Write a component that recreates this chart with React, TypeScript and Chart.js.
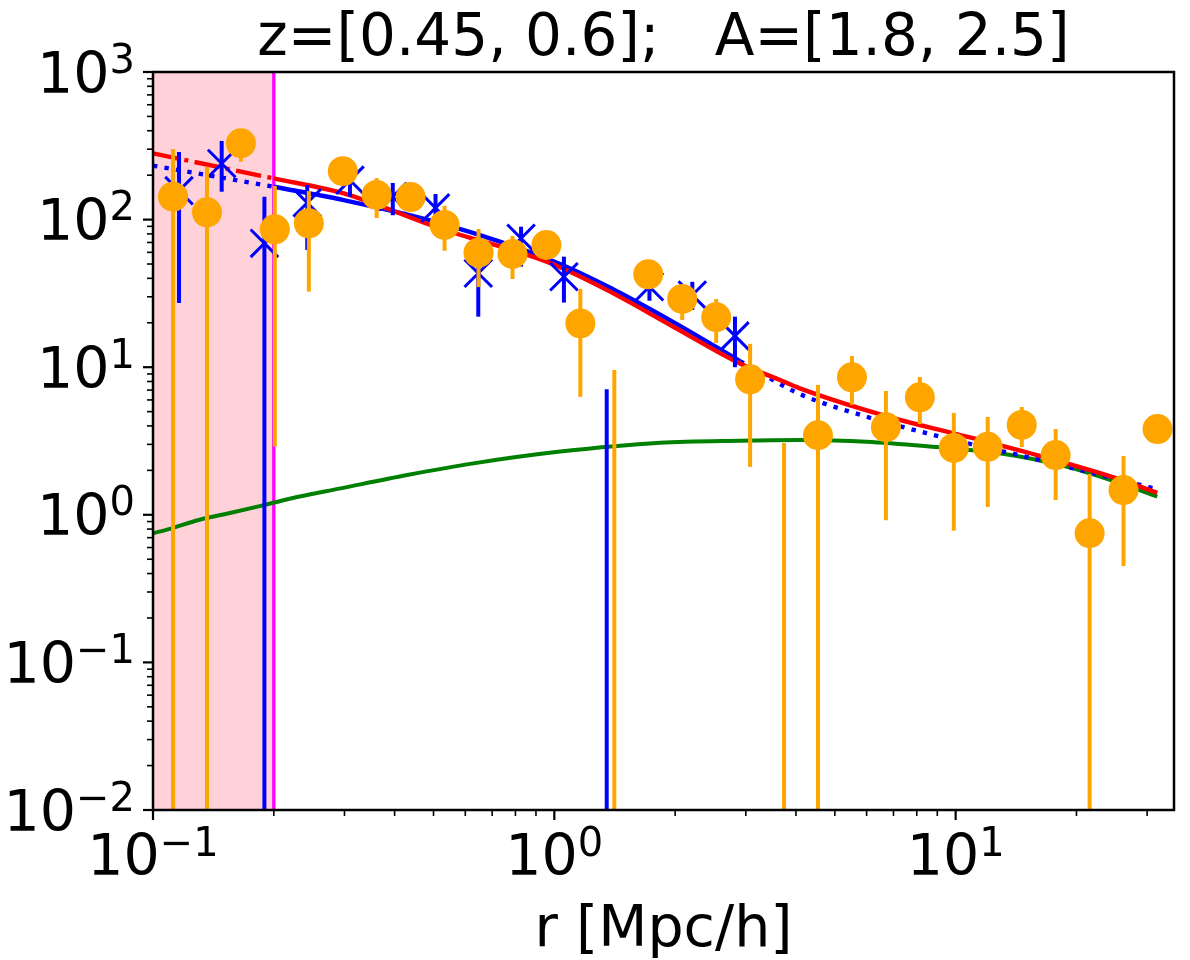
import React, { useRef, useEffect } from 'react';
import Chart from 'chart.js/auto';

// orange data points (r, value, error bar ends); null = value below zero
const orangeR = [0.1122, 0.1363, 0.1656, 0.2012, 0.2445, 0.2971, 0.3608, 0.4385, 0.5327, 0.6474,
    0.7866, 0.9556, 1.161, 1.411, 1.714, 2.083, 2.531, 3.075, 3.736, 4.539,
    5.515, 6.702, 8.143, 9.894, 12.02, 14.61, 17.75, 21.57, 26.2, 31.84];
const orangeY = [143, 112, 329, 85.9, 94.4, 213, 147, 142, 92, 59.7,
    58.5, 67.3, 19.8, null, 42.6, 29.0, 21.8, 8.28, null, 3.46,
    8.54, 3.92, 6.25, 2.84, 2.89, 4.06, 2.54, 0.75, 1.47, 3.81];
const orangeLow = [null, null, 247, 2.9, 32.5, 190, 102.5, 125, 61.5, 34.9,
    39.6, 58, 6.3, null, 37, 20.9, 14.6, 2.11, null, null,
    5.55, 0.92, 4.12, 0.78, 1.13, 2.88, 1.26, null, 0.45, 3.5];
const orangeHigh = [301, 228, 411, 169, 156, 236, 191, 160, 124, 86.3,
    77.4, 77, 33.9, 9.57, 48, 36, 29, 14.4, 3.06, 7.57,
    11.9, 6.9, 8.59, 4.9, 4.6, 5.37, 3.81, 1.89, 2.5, 4.1];

// blue data points
const blueR = [0.1161, 0.1483, 0.1895, 0.2423, 0.3096, 0.3958, 0.5058, 0.6464, 0.8262, 1.0566,
    1.3506, 1.726, 2.207, 2.819];
const blueY = [157, 240, 69.1, 130, 185, 143, 120, 43.3, 74.7, 41.0,
    null, 35.1, 30.8, 16.3];
const blueLow = [27.2, 154.5, null, 62.2, 143, 107, 96.8, 22.0, 48, 27.4,
    null, 28.2, 24.4, 10.0];
const blueHigh = [287, 341, 143, 171, 211, 177, 149, 54.9, 89.5, 56.1,
    7.1, 43, 37.9, 22.0];

// model curves
const redDashR = [0.1, 0.2];
const redDashY = [281, 190];
const redR = [0.2, 0.297, 0.52, 0.978, 1.35, 1.98, 2.9, 3.65, 4.09, 6.58, 10.66, 17.1, 25.1, 31.8];
const redY = [190, 151, 87, 50.6, 33.4, 18.8, 10.6, 8.19, 7.19, 4.74, 3.38, 2.41, 1.77, 1.41];

const blueDotLowR = [0.1, 0.2];
const blueDotLowY = [232, 167];
const blueLineR = [0.2, 0.297, 0.53, 0.978, 1.35, 1.98, 2.9];
const blueLineY = [167, 136, 93.3, 53.2, 35.5, 20.2, 11.0];
const blueDotHighR = [2.9, 4.09, 6.0, 8.78, 15.5, 31.8];
const blueDotHighY = [11.0, 6.58, 4.62, 3.48, 2.42, 1.49];

const greenR = [0.1, 0.1096, 0.13, 0.1534, 0.1856, 0.2204, 0.2935, 0.43, 0.629, 1.035,
    1.835, 2.9, 4.09, 6.0, 8.77, 12.87, 18.86, 25.1, 31.8];
const greenY = [0.75, 0.8, 0.922, 1.02, 1.15, 1.29, 1.51, 1.86, 2.23, 2.68,
    3.08, 3.18, 3.21, 3.13, 2.89, 2.61, 2.12, 1.67, 1.33];

// fit range shading
const shadeRange = [0.1, 0.2];
const cutLine = 0.2;

// axes
const xMajorTicks = [0.1, 1, 10];
const xTickExponents = ['\u22121', '0', '1'];
const yMajorTicks = [0.01, 0.1, 1, 10, 100, 1000];
const yTickExponents = ['\u22122', '\u22121', '0', '1', '2', '3'];
const titleText = 'z=[0.45, 0.6];   A=[1.8, 2.5]';
const xAxisLabel = 'r [Mpc/h]';

const FONT = '"DejaVu Sans", sans-serif';

const toPoints = (xs: number[], ys: (number | null)[]) =>
    xs.map((x, i) => ({ x, y: ys[i] })).filter((p) => p.y !== null) as { x: number; y: number }[];

const errorBars: Record<string, { r: number[]; low: (number | null)[]; high: number[]; color: string }> = {
    orangePts: { r: orangeR, low: orangeLow, high: orangeHigh, color: 'orange' },
    bluePts: { r: blueR, low: blueLow, high: blueHigh, color: 'blue' },
};

const minorTicks = (min: number, max: number) => {
    const out: number[] = [];
    for (let e = Math.floor(Math.log10(min)); e <= Math.ceil(Math.log10(max)); e++) {
        for (let m = 2; m <= 9; m++) {
            const v = m * Math.pow(10, e);
            if (v > min && v < max) out.push(v);
        }
    }
    return out;
};

const App: React.FC = () => {
    const canvasRef = useRef<HTMLCanvasElement>(null);

    useEffect(() => {
        const canvas = canvasRef.current;
        if (!canvas) return;

        const chart = new Chart(canvas, {
            type: 'scatter',
            data: {
                datasets: [
                    {
                        label: 'green',
                        data: toPoints(greenR, greenY),
                        showLine: true,
                        borderColor: 'green',
                        borderWidth: 4,
                        pointRadius: 0,
                        cubicInterpolationMode: 'monotone',
                        order: 6,
                    },
                    {
                        label: 'blueDotLow',
                        data: toPoints(blueDotLowR, blueDotLowY),
                        showLine: true,
                        borderColor: 'blue',
                        borderWidth: 4.4,
                        borderDash: [4.4, 7.2],
                        pointRadius: 0,
                        order: 5,
                    },
                    {
                        label: 'blueLine',
                        data: toPoints(blueLineR, blueLineY),
                        showLine: true,
                        borderColor: 'blue',
                        borderWidth: 4.4,
                        pointRadius: 0,
                        cubicInterpolationMode: 'monotone',
                        order: 5,
                    },
                    {
                        label: 'blueDotHigh',
                        data: toPoints(blueDotHighR, blueDotHighY),
                        showLine: true,
                        borderColor: 'blue',
                        borderWidth: 4.4,
                        borderDash: [4.4, 7.2],
                        pointRadius: 0,
                        cubicInterpolationMode: 'monotone',
                        order: 5,
                    },
                    {
                        label: 'redDash',
                        data: toPoints(redDashR, redDashY),
                        showLine: true,
                        borderColor: 'red',
                        borderWidth: 4.4,
                        borderDash: [25.6, 6.4, 4, 6.4],
                        pointRadius: 0,
                        order: 4,
                    },
                    {
                        label: 'red',
                        data: toPoints(redR, redY),
                        showLine: true,
                        borderColor: 'red',
                        borderWidth: 4.4,
                        pointRadius: 0,
                        cubicInterpolationMode: 'monotone',
                        order: 4,
                    },
                    {
                        label: 'bluePts',
                        data: toPoints(blueR, blueY),
                        pointStyle: 'crossRot',
                        pointRadius: 19.5,
                        borderColor: 'blue',
                        backgroundColor: 'blue',
                        borderWidth: 3,
                        order: 2,
                    },
                    {
                        label: 'orangePts',
                        data: toPoints(orangeR, orangeY),
                        pointStyle: 'circle',
                        pointRadius: 15,
                        borderColor: 'orange',
                        backgroundColor: 'orange',
                        borderWidth: 0,
                        order: 1,
                    },
                ],
            },
            options: {
                responsive: false,
                animation: false,
                events: [],
                layout: { autoPadding: false, padding: { left: 0, right: 16, top: 72, bottom: 0 } },
                plugins: {
                    legend: { display: false },
                    tooltip: { enabled: false },
                },
                scales: {
                    x: {
                        type: 'logarithmic',
                        min: 0.1,
                        max: 35,
                        bounds: 'data',
                        grid: { display: false },
                        border: { display: false },
                        ticks: { display: false },
                        afterFit: (scale: any) => {
                            scale.height = 150;
                        },
                    },
                    y: {
                        type: 'logarithmic',
                        min: 0.01,
                        max: 1000,
                        bounds: 'data',
                        grid: { display: false },
                        border: { display: false },
                        ticks: { display: false },
                        afterFit: (scale: any) => {
                            scale.width = 153;
                        },
                    },
                },
            },
            plugins: [
                {
                    id: 'shade',
                    beforeDatasetsDraw: (c: any) => {
                        const { ctx, chartArea, scales } = c;
                        const x0 = scales.x.getPixelForValue(shadeRange[0]);
                        const x1 = scales.x.getPixelForValue(shadeRange[1]);
                        ctx.save();
                        ctx.fillStyle = 'rgba(255, 192, 203, 0.72)';
                        ctx.fillRect(x0, chartArea.top, x1 - x0, chartArea.bottom - chartArea.top);
                        const xc = scales.x.getPixelForValue(cutLine);
                        ctx.strokeStyle = '#ff00ff';
                        ctx.lineWidth = 3.3;
                        ctx.beginPath();
                        ctx.moveTo(xc, chartArea.top);
                        ctx.lineTo(xc, chartArea.bottom);
                        ctx.stroke();
                        ctx.restore();
                    },
                },
                {
                    id: 'errorBars',
                    beforeDatasetDraw: (c: any, args: any) => {
                        const ds = c.data.datasets[args.index];
                        const eb = errorBars[ds.label];
                        if (!eb) return;
                        const { ctx, chartArea, scales } = c;
                        ctx.save();
                        ctx.beginPath();
                        ctx.rect(chartArea.left, chartArea.top, chartArea.right - chartArea.left, chartArea.bottom - chartArea.top);
                        ctx.clip();
                        ctx.strokeStyle = eb.color;
                        ctx.lineWidth = 4;
                        eb.r.forEach((r, i) => {
                            const x = scales.x.getPixelForValue(r);
                            const lo = eb.low[i];
                            const yLo = lo === null ? chartArea.bottom + 5 : scales.y.getPixelForValue(lo);
                            const yHi = scales.y.getPixelForValue(eb.high[i]);
                            ctx.beginPath();
                            ctx.moveTo(x, yLo);
                            ctx.lineTo(x, yHi);
                            ctx.stroke();
                        });
                        ctx.restore();
                    },
                },
                {
                    id: 'frame',
                    afterDraw: (c: any) => {
                        const { ctx, chartArea, scales } = c;
                        const { left, right, top, bottom } = chartArea;
                        ctx.save();
                        ctx.strokeStyle = '#000';
                        ctx.fillStyle = '#000';

                        // ticks
                        const drawXTick = (v: number, len: number, w: number) => {
                            const x = scales.x.getPixelForValue(v);
                            ctx.lineWidth = w;
                            ctx.beginPath();
                            ctx.moveTo(x, bottom);
                            ctx.lineTo(x, bottom + len);
                            ctx.stroke();
                        };
                        const drawYTick = (v: number, len: number, w: number) => {
                            const y = scales.y.getPixelForValue(v);
                            ctx.lineWidth = w;
                            ctx.beginPath();
                            ctx.moveTo(left, y);
                            ctx.lineTo(left - len, y);
                            ctx.stroke();
                        };
                        minorTicks(0.1, 35).forEach((v) => drawXTick(v, 6, 1.6));
                        xMajorTicks.forEach((v) => drawXTick(v, 10, 2.2));
                        minorTicks(0.01, 1000).forEach((v) => drawYTick(v, 6, 1.6));
                        yMajorTicks.forEach((v) => drawYTick(v, 10, 2.2));

                        // frame
                        ctx.lineWidth = 2.5;
                        ctx.strokeRect(left, top, right - left, bottom - top);

                        // tick labels
                        const big = `57px ${FONT}`;
                        const small = `40px ${FONT}`;
                        ctx.textBaseline = 'alphabetic';
                        xMajorTicks.forEach((v, i) => {
                            const x = scales.x.getPixelForValue(v);
                            ctx.font = big;
                            const w1 = ctx.measureText('10').width;
                            ctx.font = small;
                            const w2 = ctx.measureText(xTickExponents[i]).width;
                            const x0 = x - (w1 + w2) / 2;
                            ctx.textAlign = 'left';
                            ctx.font = big;
                            ctx.fillText('10', x0, bottom + 65);
                            ctx.font = small;
                            ctx.fillText(xTickExponents[i], x0 + w1, bottom + 46);
                        });
                        yMajorTicks.forEach((v, i) => {
                            const y = scales.y.getPixelForValue(v);
                            const xr = left - 18;
                            ctx.font = small;
                            const w2 = ctx.measureText(yTickExponents[i]).width;
                            ctx.textAlign = 'right';
                            ctx.fillText(yTickExponents[i], xr, y + 0.5);
                            ctx.font = big;
                            ctx.fillText('10', xr - w2, y + 20.5);
                        });

                        // title and axis label
                        ctx.textAlign = 'center';
                        ctx.font = `58px ${FONT}`;
                        ctx.fillText(titleText, (left + right) / 2, 55);
                        ctx.font = big;
                        ctx.fillText(xAxisLabel, (left + right) / 2, 946);
                        ctx.restore();
                    },
                },
            ],
        } as any);

        return () => {
            chart.destroy();
        };
    }, []);

    return (
        <div style={{ position: 'absolute', left: 0, top: 0, width: 1190, height: 960, background: '#fff' }}>
            <canvas ref={canvasRef} width={1190} height={960}></canvas>
        </div>
    );
};

export default App;
